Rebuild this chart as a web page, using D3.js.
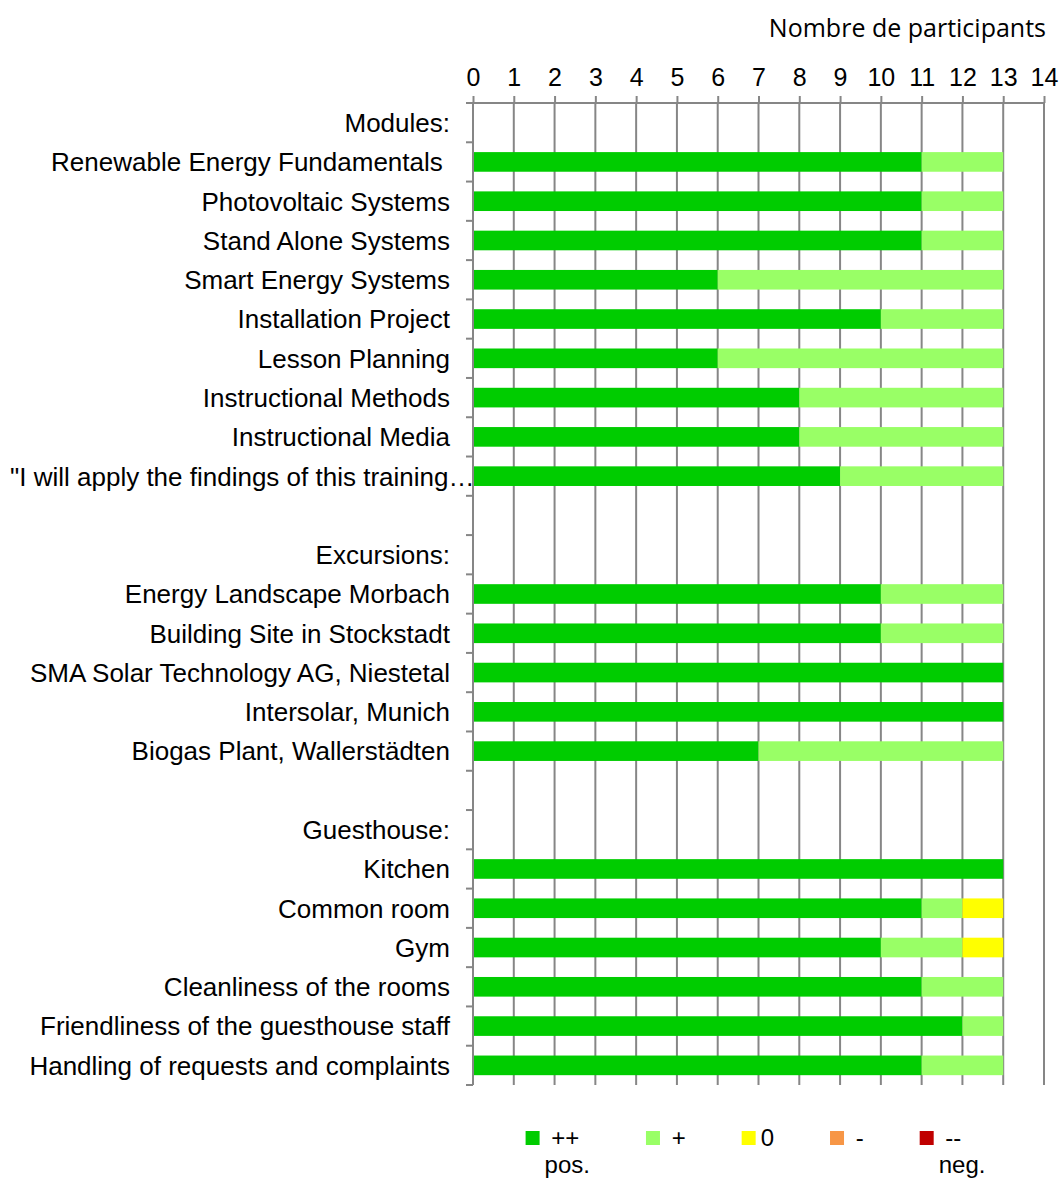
<!DOCTYPE html>
<html>
<head>
<meta charset="utf-8">
<script src="https://cdn.jsdelivr.net/npm/d3@7"></script>
<style>
  body { margin: 0; background: #fff; }
  text { white-space: pre; }
</style>
</head>
<body>
<script>
// rows of the chart, headers and blank spacer rows included
var categories = [
  "Modules:",
  "Renewable Energy Fundamentals ",
  "Photovoltaic Systems",
  "Stand Alone Systems",
  "Smart Energy Systems",
  "Installation Project",
  "Lesson Planning",
  "Instructional Methods",
  "Instructional Media",
  "\"I will apply the findings of this training\u2026",
  "",
  "Excursions:",
  "Energy Landscape Morbach",
  "Building Site in Stockstadt",
  "SMA Solar Technology AG, Niestetal",
  "Intersolar, Munich",
  "Biogas Plant, Wallerst\u00e4dten",
  "",
  "Guesthouse:",
  "Kitchen",
  "Common room",
  "Gym",
  "Cleanliness of the rooms",
  "Friendliness of the guesthouse staff",
  "Handling of requests and complaints"
];

var veryGood = [0, 11, 11, 11, 6, 10, 6, 8, 8, 9, 0, 0, 10, 10, 13, 13, 7, 0, 0, 13, 11, 10, 11, 12, 11];
var good     = [0, 2, 2, 2, 7, 3, 7, 5, 5, 4, 0, 0, 3, 3, 0, 0, 6, 0, 0, 0, 1, 2, 2, 1, 2];
var neutral  = [0, 0, 0, 0, 0, 0, 0, 0, 0, 0, 0, 0, 0, 0, 0, 0, 0, 0, 0, 0, 1, 1, 0, 0, 0];
var bad      = [0, 0, 0, 0, 0, 0, 0, 0, 0, 0, 0, 0, 0, 0, 0, 0, 0, 0, 0, 0, 0, 0, 0, 0, 0];
var veryBad  = [0, 0, 0, 0, 0, 0, 0, 0, 0, 0, 0, 0, 0, 0, 0, 0, 0, 0, 0, 0, 0, 0, 0, 0, 0];

var seriesNames = [" ++", " +", "0", " -", " --"];
var seriesSub   = ["pos.", "", "", "", "neg."];
var seriesColors = ["#00cc00", "#99ff66", "#ffff00", "#f79646", "#c00000"];
var xTicks = [0, 1, 2, 3, 4, 5, 6, 7, 8, 9, 10, 11, 12, 13, 14];
var axisTitle = "Nombre de participants";

var W = 1062, H = 1178;
var gridColor = "#868686";
var font = "'Liberation Sans', Arial, sans-serif";

var svg = d3.select("body").append("svg")
    .attr("width", W).attr("height", H);

var x = d3.scaleLinear().domain([0, 14]).range([473, 1044]);
var y = d3.scaleBand()
    .domain(d3.range(categories.length))
    .range([103, 1085])
    .paddingInner(0.5)
    .paddingOuter(0.25);

var yTop = y.range()[0], yBot = y.range()[1];

// stacked data
var rows = categories.map(function(c, i) {
    return { i: i, "0": veryGood[i], "1": good[i], "2": neutral[i], "3": bad[i], "4": veryBad[i] };
});
var stack = d3.stack().keys(["0", "1", "2", "3", "4"])(rows);

// vertical gridlines
svg.append("g").selectAll("line")
    .data(xTicks)
    .enter().append("line")
    .attr("x1", function(d) { return x(d); }).attr("x2", function(d) { return x(d); })
    .attr("y1", yTop).attr("y2", yBot)
    .attr("stroke", gridColor).attr("stroke-width", 2);

// bars
svg.append("g").selectAll("g")
    .data(stack)
    .enter().append("g")
    .attr("fill", function(d, k) { return seriesColors[k]; })
    .selectAll("rect")
    .data(function(d) { return d; })
    .enter().append("rect")
    .attr("x", function(d) { return x(d[0]); })
    .attr("y", function(d) { return y(d.data.i); })
    .attr("width", function(d) { return x(d[1]) - x(d[0]); })
    .attr("height", y.bandwidth());

// top axis
var xAxis = d3.axisTop(x).tickValues(xTicks).tickSize(7).tickPadding(10);
var gx = svg.append("g").attr("transform", "translate(0," + yTop + ")").call(xAxis);
gx.select(".domain").attr("stroke", gridColor).attr("stroke-width", 2).attr("d", "M" + x(0) + ",0H" + x(14));
gx.selectAll(".tick line").attr("stroke", gridColor).attr("stroke-width", 2);
gx.selectAll(".tick text").attr("font-family", font).attr("font-size", 25).attr("fill", "#000");

// left axis with ticks at band boundaries
var edges = d3.range(categories.length + 1).map(function(k) { return yTop + k * y.step(); });
var gy = svg.append("g");
gy.append("line")
    .attr("x1", x(0)).attr("x2", x(0)).attr("y1", yTop).attr("y2", yBot)
    .attr("stroke", gridColor).attr("stroke-width", 2);
gy.selectAll("line.tk")
    .data(edges)
    .enter().append("line").attr("class", "tk")
    .attr("x1", x(0) - 7).attr("x2", x(0))
    .attr("y1", function(d) { return d; }).attr("y2", function(d) { return d; })
    .attr("stroke", gridColor).attr("stroke-width", 2);
gy.selectAll("text")
    .data(categories)
    .enter().append("text")
    .attr("x", x(0) - 23)
    .attr("y", function(d, i) { return y(i) + y.bandwidth() / 2; })
    .attr("dy", "0.36em")
    .attr("text-anchor", "end")
    .attr("font-family", font).attr("font-size", 26)
    .text(function(d) { return d; })
    .each(function() {
        // too long labels are pushed right so they start at the left margin
        var w = this.getComputedTextLength();
        if (x(0) - 23 - w < 10) d3.select(this).attr("x", 10 + w);
    });

// axis title
svg.append("text")
    .attr("x", 1046).attr("y", 37)
    .attr("text-anchor", "end")
    .attr("font-family", "'Open Sans', sans-serif").attr("font-size", 25)
    .text(axisTitle);

// legend
var lg = svg.append("g");
var items = lg.selectAll("g")
    .data(seriesNames)
    .enter().append("g");
items.append("rect")
    .attr("width", 14).attr("height", 14).attr("y", 1131)
    .attr("fill", function(d, k) { return seriesColors[k]; });
items.append("text")
    .attr("x", 19).attr("y", 1146)
    .attr("font-family", font).attr("font-size", 24)
    .text(function(d) { return d; });
items.append("text")
    .attr("x", 19).attr("y", 1173)
    .attr("font-family", font).attr("font-size", 24)
    .text(function(d, k) { return seriesSub[k]; });

var widths = [];
items.each(function() {
    var t = d3.select(this).selectAll("text").nodes();
    widths.push(19 + d3.max(t, function(n) { return n.getComputedTextLength(); }) + 56);
});
var total = d3.sum(widths) - 56;
var start = (x(0) + x(14)) / 2 - total / 2 - 3;
var acc = start;
items.attr("transform", function(d, k) {
    var tx = acc; acc += widths[k];
    return "translate(" + tx + ",0)";
});
</script>
</body>
</html>
